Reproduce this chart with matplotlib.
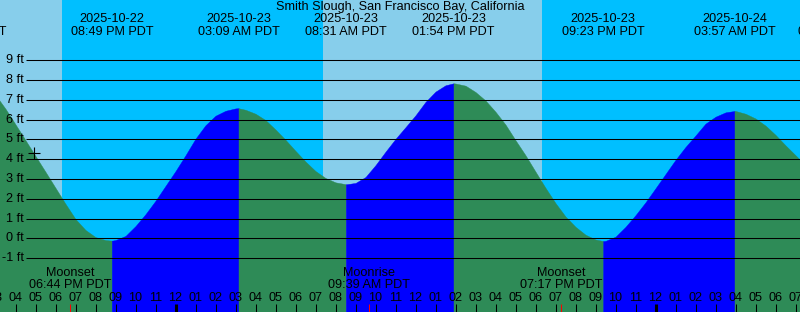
import numpy as np
import pandas as pd
import matplotlib
matplotlib.use("Agg")
import matplotlib.pyplot as plt

title = "Smith Slough, San Francisco Bay, California"
ref_day = pd.Timestamp("2025-10-23 00:00")

# tide height (ft), every half hour from 2025-10-22 15:00 PDT
tide_start = "2025-10-22 15:00"
tide_ft = [
    7.25, 6.55, 5.76, 4.96, 4.16, 3.36, 2.55, 1.74, 0.97, 0.42, 0.06, -0.09,
    -0.09, 0.12, 0.62, 1.22, 1.90, 2.65, 3.40, 4.20, 5.04, 5.72, 6.20, 6.45, 6.57,
    6.50, 6.30, 5.98, 5.50, 4.98, 4.42, 3.88, 3.40, 3.05, 2.83, 2.74,
    2.80, 3.10, 3.70, 4.38, 5.03, 5.62, 6.22, 6.90, 7.42, 7.74,
    7.83, 7.72, 7.40, 6.97, 6.40, 5.75, 4.96, 4.20, 3.37, 2.55, 1.78, 1.10, 0.58, 0.18, -0.06,
    -0.13, 0.08, 0.58, 1.17, 1.82, 2.53, 3.25, 3.97, 4.62, 5.20, 5.80, 6.15, 6.37,
    6.44, 6.30, 6.06, 5.70, 5.23, 4.70, 4.20, 3.70,
]

# high / low tides (first and last are off the chart, height not shown)
extreme_times = ["2025-10-22 13:30", "2025-10-22 20:49", "2025-10-23 03:09",
                 "2025-10-23 08:31", "2025-10-23 13:54", "2025-10-23 21:23",
                 "2025-10-24 03:57", "2025-10-24 09:12"]
extreme_kinds = ["high", "low", "high", "low", "high", "low", "high", "low"]
extreme_ft = [np.nan, -0.12, 6.58, 2.73, 7.84, -0.14, 6.44, np.nan]

sun_times = ["2025-10-22 18:19", "2025-10-23 07:22", "2025-10-23 18:19"]
sun_kinds = ["set", "rise", "set"]

moon_times = ["2025-10-22 18:44", "2025-10-23 09:39", "2025-10-23 19:17"]
moon_labels = ["Moonset", "Moonrise", "Moonset"]

now_time = "2025-10-22 16:56"
now_ft = 4.3

ft_levels = list(range(-1, 10))

day_color = "#87CEEB"
night_color = "#00BFFF"
rise_color = "#0000FF"
fall_color = "#2E8B57"

W, H = 800, 312
px_per_hour = 20.0
midnight_px = 175.5
zero_ft_px = 238.3
px_per_ft = 19.77

plt.rcParams["font.family"] = ["Liberation Sans", "DejaVu Sans"]
plt.rcParams["font.size"] = 9.1


def hrs(s):
    return (pd.Timestamp(s) - ref_day) / pd.Timedelta(hours=1)


def fy(py):
    # pixel row from the top -> axes fraction
    return 1 - py / H


fig = plt.figure(figsize=(W / 100, H / 100), dpi=100)
ax = fig.add_axes([0, 0, 1, 1])
ax.set_axis_off()
xmin = -midnight_px / px_per_hour
xmax = (W - midnight_px) / px_per_hour
ymax = zero_ft_px / px_per_ft
ymin = (zero_ft_px - H) / px_per_ft
ax.set_xlim(xmin, xmax)
ax.set_ylim(ymin, ymax)
xt = ax.get_xaxis_transform()
yt = ax.get_yaxis_transform()

# day / night background
sun_h = [hrs(s) for s in sun_times]
edges = [xmin] + sun_h + [xmax]
is_day = sun_kinds[0] == "set"
for a, b in zip(edges[:-1], edges[1:]):
    ax.axvspan(a, b, color=day_color if is_day else night_color, lw=0)
    is_day = not is_day

# tide curve, blue while rising, green while falling
t_curve = hrs(tide_start) + 0.5 * np.arange(len(tide_ft))
ext_h = np.array([hrs(s) for s in extreme_times])
ext_ft = np.array(extreme_ft)
known = ~np.isnan(ext_ft)
t_all = np.concatenate([t_curve, ext_h[known]])
f_all = np.concatenate([tide_ft, ext_ft[known]])
order = np.argsort(t_all)
t_all, f_all = t_all[order], f_all[order]

bounds = [-np.inf] + list(ext_h) + [np.inf]
for i in range(len(bounds) - 1):
    m = (t_all >= bounds[i]) & (t_all <= bounds[i + 1])
    if m.sum() < 2:
        continue
    if i < len(extreme_kinds):
        end_kind = extreme_kinds[i]
    else:
        end_kind = "low" if extreme_kinds[-1] == "high" else "high"
    c = rise_color if end_kind == "high" else fall_color
    ax.fill_between(t_all[m], f_all[m], ymin - 1, color=c, ec=c, lw=0.3)

# height grid
ax.hlines(ft_levels, 26 / W, 1, transform=yt, color="black", lw=0.75)
for lv in ft_levels:
    ax.text(24 / W, lv, f"{lv} ft", transform=yt, ha="right", va="center")

# current time mark
ax.plot(hrs(now_time), now_ft, marker="+", color="black", ms=9, mew=0.8)

# title and tide event labels
fig.text(0.5, fy(7), title, ha="center", va="center")
for s in extreme_times:
    t = pd.Timestamp(s)
    h = hrs(s)
    ax.text(h, fy(19.5), t.strftime("%Y-%m-%d"), transform=xt, ha="center", va="center")
    ax.text(h, fy(31.7), t.strftime("%I:%M %p PDT"), transform=xt, ha="center", va="center")

# hour ticks along the bottom
tick_top = fy(304)
for h in range(int(np.floor(xmin)) - 1, int(np.ceil(xmax)) + 1):
    hour = h % 24
    ax.vlines(h, 0, tick_top, transform=xt, color="black",
              lw=2.2 if hour == 0 else 0.75)
    lab = hour % 12 or 12
    ax.text(h, fy(297.7), f"{lab:02d}", transform=xt, ha="center", va="center")

# moon events
for s, lab in zip(moon_times, moon_labels):
    h = hrs(s)
    ax.vlines(h, 0, tick_top, transform=xt, color="red", lw=0.75)
    ax.text(h, fy(273.3), lab, transform=xt, ha="center", va="center")
    ax.text(h, fy(285.2), pd.Timestamp(s).strftime("%I:%M %p PDT"),
            transform=xt, ha="center", va="center")

fig.savefig("out.png", dpi=100)
